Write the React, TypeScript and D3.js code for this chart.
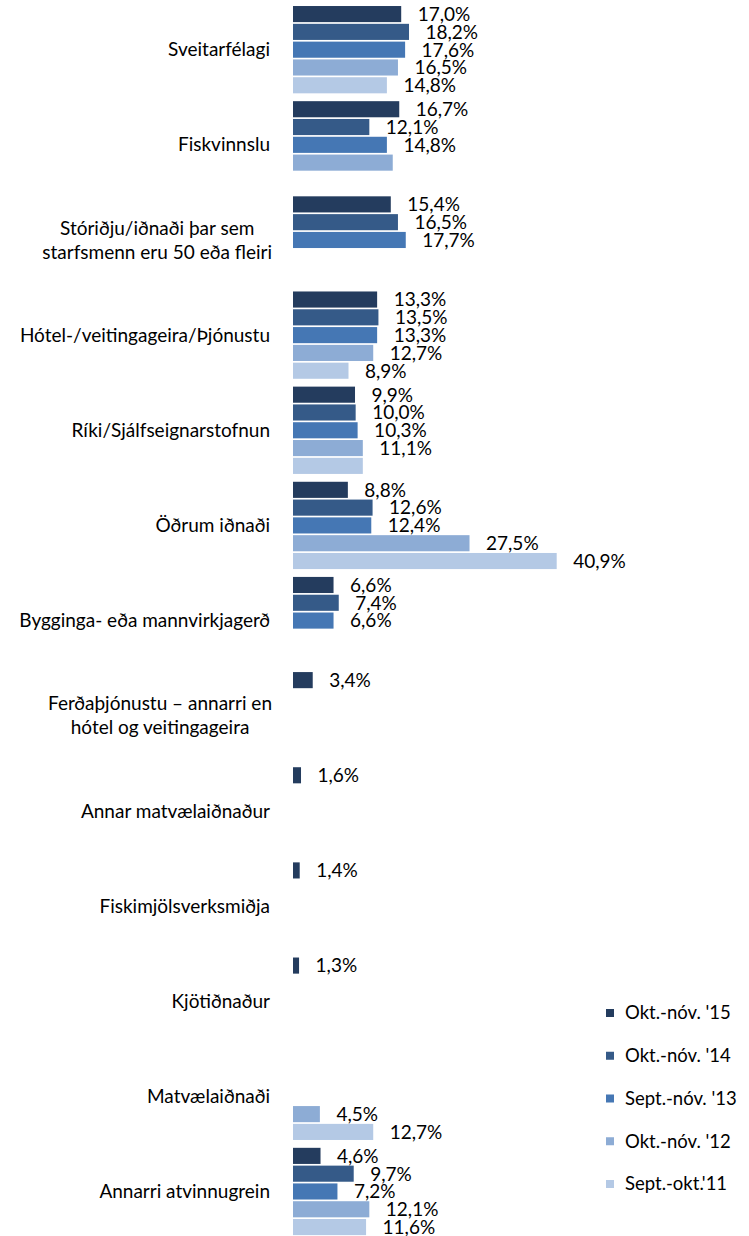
import React, { useMemo } from 'react';
import * as d3 from 'd3';

const categories = [
  'Sveitarfélagi',
  'Fiskvinnslu',
  'Stóriðju/iðnaði þar sem|starfsmenn eru 50 eða fleiri',
  'Hótel-/veitingageira/Þjónustu',
  'Ríki/Sjálfseignarstofnun',
  'Öðrum iðnaði',
  'Bygginga- eða mannvirkjagerð',
  'Ferðaþjónustu – annarri en|hótel og veitingageira',
  'Annar matvælaiðnaður',
  'Fiskimjölsverksmiðja',
  'Kjötiðnaður',
  'Matvælaiðnaði',
  'Annarri atvinnugrein',
];

const seriesNames = ["Okt.-nóv. '15", "Okt.-nóv. '14", "Sept.-nóv. '13", "Okt.-nóv. '12", "Sept.-okt.'11"];

const okt15 = [17.0, 16.7, 15.4, 13.3, 9.9, 8.8, 6.6, 3.4, 1.6, 1.4, 1.3, null, 4.6];
const okt14 = [18.2, 12.1, 16.5, 13.5, 10.0, 12.6, 7.4, null, null, null, null, null, 9.7];
const sept13 = [17.6, 14.8, 17.7, 13.3, 10.3, 12.4, 6.6, null, null, null, null, null, 7.2];
const okt12 = [16.5, 15.7, null, 12.7, 11.1, 27.5, null, null, null, null, null, 4.5, 12.1];
const sept11 = [14.8, null, null, 8.9, 11.1, 40.9, null, null, null, null, null, 12.7, 11.6];

// [category index, series index] of bars drawn without a value label
const unlabeled = [[1, 3], [4, 4]];

const colors = ['#243C5E', '#355A88', '#4577B4', '#8DACD5', '#B4C9E5'];

const W = 749;
const H = 1236;
const FONT = 'Lato, "Open Sans", sans-serif';
const FS = 19;

export default function App() {
  const series = [okt15, okt14, sept13, okt12, sept11];

  const x = d3.scaleLinear().domain([0, 40.9]).range([290.6, 556.7]);
  const y = d3
    .scaleBand<string>()
    .domain(categories)
    .range([2.1, 2.1 + 13 * 95.15])
    .paddingInner(0.0825)
    .paddingOuter(0.04125);
  const yi = d3
    .scaleBand<number>()
    .domain(d3.range(5))
    .range([0, y.bandwidth()])
    .paddingInner(0.095)
    .paddingOuter(0);

  const measure = useMemo(() => {
    const c = document.createElement('canvas').getContext('2d');
    return (s: string) => {
      if (!c) return s.length * 9;
      c.font = `${FS}px Lato`;
      return c.measureText(s).width;
    };
  }, []);

  const fmt = (v: number) => v.toFixed(1).replace('.', ',') + '%';
  const isUnlabeled = (ci: number, si: number) => unlabeled.some(([a, b]) => a === ci && b === si);

  const legendY = d3.scaleLinear().domain([0, 4]).range([1013, 1184]);

  return (
    <>
      <style>{`body{margin:0}`}</style>
      <svg width={W} height={H} style={{ display: 'block', background: '#fff' }} fontFamily={FONT}>
        {categories.map((cat, ci) => {
          const y0 = y(cat)!;
          const cy = y0 + y.bandwidth() / 2;
          const lines = cat.split('|');
          let labelEl;
          if (lines.length === 1) {
            labelEl = (
              <text x={270} y={cy} dy="0.35em" textAnchor="end" fontSize={FS} fill="#000">
                {lines[0]}
              </text>
            );
          } else {
            const maxW = Math.max(...lines.map(measure));
            const cx = 272 - maxW / 2;
            labelEl = (
              <text textAnchor="middle" fontSize={FS} fill="#000">
                {lines.map((l, li) => (
                  <tspan key={li} x={cx} y={cy + (li - (lines.length - 1) / 2) * 24} dy="0.35em">
                    {l}
                  </tspan>
                ))}
              </text>
            );
          }
          return (
            <g key={cat}>
              {labelEl}
              {series.map((vals, si) => {
                const v = vals[ci];
                if (v == null) return null;
                const by = y0 + yi(si)!;
                return (
                  <g key={si}>
                    <rect
                      x={x(0) + 2.4}
                      y={by}
                      width={Math.max(0, x(v) - x(0) - 2.4)}
                      height={yi.bandwidth()}
                      fill={colors[si]}
                    />
                    {!isUnlabeled(ci, si) && (
                      <text x={x(v) + 16.5} y={by + yi.bandwidth() / 2} dy="0.36em" fontSize={FS} fill="#000">
                        {fmt(v)}
                      </text>
                    )}
                  </g>
                );
              })}
            </g>
          );
        })}
        {seriesNames.map((name, si) => (
          <g key={name} transform={`translate(0,${legendY(si)})`}>
            <rect x={606} y={-4} width={8} height={8} fill={colors[si]} />
            <text x={625} y={0} dy="0.35em" fontSize={18.5} fill="#000">
              {name}
            </text>
          </g>
        ))}
      </svg>
    </>
  );
}
